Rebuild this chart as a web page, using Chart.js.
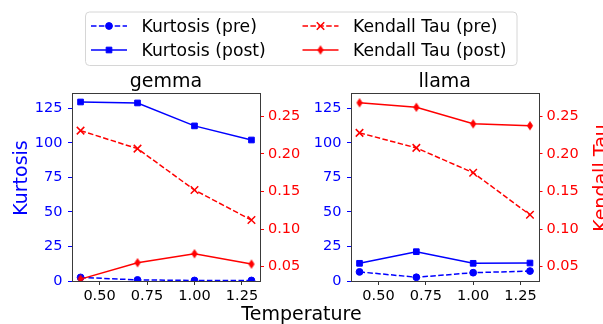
<!DOCTYPE html>
<html><head><meta charset="utf-8">
<script src="https://cdn.jsdelivr.net/npm/chart.js@4/dist/chart.umd.min.js"></script>
<style>
html,body{margin:0;padding:0;background:#fff;}
#wrap{position:relative;width:603px;height:324px;overflow:hidden;}
canvas{position:absolute;left:0;top:0;}
</style></head><body>
<div id="wrap"><canvas id="c1" width="603" height="324"></canvas><canvas id="c2" width="603" height="324"></canvas></div>
<script>
// ---- data ----
const temperatures = [0.4, 0.7, 1.0, 1.3];
const gemmaKurtosisPre  = [2.6, 0.8, 0.4, 0.4];
const gemmaKurtosisPost = [129.5, 128.8, 112.2, 102.0];
const gemmaTauPre  = [0.231, 0.207, 0.152, 0.112];
const gemmaTauPost = [0.0335, 0.0553, 0.0673, 0.0535];
const llamaKurtosisPre  = [6.6, 2.7, 6.0, 7.2];
const llamaKurtosisPost = [12.8, 21.2, 12.8, 13.0];
const llamaTauPre  = [0.228, 0.208, 0.175, 0.119];
const llamaTauPost = [0.268, 0.262, 0.240, 0.2375];
const xTicks = [0.5, 0.75, 1.0, 1.25];
const kurtosisTicks = [0, 25, 50, 75, 100, 125];
const tauTicks = [0.05, 0.10, 0.15, 0.20, 0.25];
const seriesLabels = ['Kurtosis (pre)', 'Kurtosis (post)', 'Kendall Tau (pre)', 'Kendall Tau (post)'];
const panelTitles = ['gemma', 'llama'];

// ---- styles ----
const BLUE = '#0000ff', RED = '#ff0000';
const FONT = '"DejaVu Sans", sans-serif';
const DASH = [5.5, 2.4];
const TICK_FONT = {size: 14.5, family: FONT};

function makeThinDiamond(color){
  const c = document.createElement('canvas');
  c.width = 8; c.height = 11;
  const g = c.getContext('2d');
  g.beginPath();
  g.moveTo(4, 1.5); g.lineTo(6.6, 5.5); g.lineTo(4, 9.5); g.lineTo(1.4, 5.5); g.closePath();
  g.fillStyle = color; g.strokeStyle = color; g.lineWidth = 1;
  g.fill(); g.stroke();
  return c;
}
const thinDiamond = makeThinDiamond(RED);

const styleSpec = [
  {color: BLUE, dash: DASH, pointStyle: 'circle', radius: 3.4, pbw: 1},
  {color: BLUE, dash: [], pointStyle: 'rect', radius: 4, pbw: 1},
  {color: RED, dash: DASH, pointStyle: 'crossRot', radius: 5.3, pbw: 1.5},
  {color: RED, dash: [], pointStyle: thinDiamond, radius: 4.5, pbw: 1},
];

function pts(vals){ return temperatures.map((t,i)=>({x:t, y:vals[i]})); }

function ds(idx, vals, axis){
  const s = styleSpec[idx];
  return {
    label: seriesLabels[idx], data: pts(vals), yAxisID: axis,
    borderColor: s.color, backgroundColor: s.color, borderWidth: 1.5, borderDash: s.dash,
    pointStyle: s.pointStyle, pointRadius: s.radius, pointBorderWidth: s.pbw,
    pointBackgroundColor: s.color, pointBorderColor: s.color,
    tension: 0, fill: false, clip: {left:0, top:0, right:0, bottom:0}
  };
}

function drawMarker(ctx, idx, x, y){
  const s = styleSpec[idx];
  ctx.save();
  ctx.fillStyle = s.color; ctx.strokeStyle = s.color; ctx.lineWidth = s.pbw; ctx.setLineDash([]);
  const st = s.pointStyle, r = s.radius;
  ctx.beginPath();
  if (st === 'circle') { ctx.arc(x, y, r, 0, Math.PI*2); ctx.fill(); ctx.stroke(); }
  else if (st === 'rect') { const h = r*Math.SQRT1_2; ctx.rect(x-h, y-h, 2*h, 2*h); ctx.fill(); ctx.stroke(); }
  else if (st === 'crossRot') { const h = r*Math.SQRT1_2; ctx.moveTo(x-h,y-h); ctx.lineTo(x+h,y+h); ctx.moveTo(x+h,y-h); ctx.lineTo(x-h,y+h); ctx.stroke(); }
  else { ctx.drawImage(st, x - st.width/2, y - st.height/2); }
  ctx.restore();
}

function drawLegend(ctx){
  ctx.save();
  const bx = 85.5, by = 12, bw = 431.5, bh = 53.5, rr = 4;
  ctx.beginPath();
  ctx.moveTo(bx+rr, by); ctx.lineTo(bx+bw-rr, by); ctx.quadraticCurveTo(bx+bw, by, bx+bw, by+rr);
  ctx.lineTo(bx+bw, by+bh-rr); ctx.quadraticCurveTo(bx+bw, by+bh, bx+bw-rr, by+bh);
  ctx.lineTo(bx+rr, by+bh); ctx.quadraticCurveTo(bx, by+bh, bx, by+bh-rr);
  ctx.lineTo(bx, by+rr); ctx.quadraticCurveTo(bx, by, bx+rr, by); ctx.closePath();
  ctx.fillStyle = 'rgba(255,255,255,0.8)'; ctx.fill();
  ctx.strokeStyle = '#d6d6d6'; ctx.lineWidth = 1; ctx.stroke();
  const cols = [{x0: 91, x1: 127, mx: 109, tx: 141.5}, {x0: 302.5, x1: 338.5, mx: 320.5, tx: 353}];
  const rows = [26, 50];
  ctx.font = '17.2px ' + FONT; ctx.textAlign = 'left'; ctx.textBaseline = 'alphabetic';
  for (let i = 0; i < 4; i++){
    const c = cols[Math.floor(i/2)], y = rows[i%2], s = styleSpec[i];
    ctx.strokeStyle = s.color; ctx.lineWidth = 1.5; ctx.setLineDash(s.dash);
    ctx.beginPath(); ctx.moveTo(c.x0, y); ctx.lineTo(c.x1, y); ctx.stroke();
    ctx.setLineDash([]);
    drawMarker(ctx, i, c.mx, y);
    ctx.fillStyle = '#000';
    ctx.fillText(seriesLabels[i], c.tx, y + 6.4);
  }
  ctx.restore();
}

const decor = {
  id: 'decor',
  afterDraw(chart, args, opts){
    const ctx = chart.ctx, a = chart.chartArea;
    ctx.save();
    ctx.strokeStyle = '#3a3a3a'; ctx.lineWidth = 1;
    ctx.strokeRect(Math.round(a.left)+0.5, Math.round(a.top)+0.5, Math.round(a.right)-Math.round(a.left), Math.round(a.bottom)-Math.round(a.top));
    ctx.fillStyle = '#000'; ctx.font = '19px ' + FONT; ctx.textAlign = 'center'; ctx.textBaseline = 'alphabetic';
    ctx.fillText(opts.title, (a.left + a.right)/2, 87);
    if (opts.extra) opts.extra(ctx);
    ctx.restore();
  }
};

function makeChart(id, title, kPre, kPost, tPre, tPost, left, right, extra){
  const W = 603, H = 324, top = 93, bottom = 281;
  const yW = 60, y1W = 60, xH = 30;
  return new Chart(document.getElementById(id), {
    type: 'line',
    data: { datasets: [ ds(3, tPost, 'y1'), ds(2, tPre, 'y1'), ds(1, kPost, 'y'), ds(0, kPre, 'y') ] },
    plugins: [decor],
    options: {
      responsive: false, animation: false, devicePixelRatio: 1, events: [],
      layout: { autoPadding: false, padding: { left: left - yW, right: W - right - y1W, top: top, bottom: H - bottom - xH } },
      plugins: { legend: {display: false}, tooltip: {enabled: false}, decor: { title: title, extra: extra } },
      scales: {
        x: {
          type: 'linear', min: 0.355, max: 1.345,
          afterBuildTicks: s => { s.ticks = xTicks.map(v => ({value: v})); },
          afterFit: s => { s.height = xH; },
          ticks: { callback: v => Number(v).toFixed(2), font: TICK_FONT, color: '#000', padding: 2.5, maxRotation: 0, autoSkip: false },
          grid: { drawOnChartArea: false, drawTicks: true, tickLength: 4, tickColor: '#333', tickWidth: 1 },
          border: { display: false }
        },
        y: {
          type: 'linear', position: 'left', min: 0, max: 136,
          afterBuildTicks: s => { s.ticks = kurtosisTicks.map(v => ({value: v})); },
          afterFit: s => { s.width = yW; },
          ticks: { callback: v => String(v), font: TICK_FONT, color: BLUE, padding: 5.5 },
          grid: { drawOnChartArea: false, drawTicks: true, tickLength: 4, tickColor: BLUE, tickWidth: 1 },
          border: { display: false }
        },
        y1: {
          type: 'linear', position: 'right', min: 0.031, max: 0.281,
          afterBuildTicks: s => { s.ticks = tauTicks.map(v => ({value: v})); },
          afterFit: s => { s.width = y1W; },
          ticks: { callback: v => Number(v).toFixed(2), font: TICK_FONT, color: RED, padding: 4 },
          grid: { drawOnChartArea: false, drawTicks: true, tickLength: 4, tickColor: RED, tickWidth: 1 },
          border: { display: false }
        }
      }
    }
  });
}

function leftExtras(ctx){
  drawLegend(ctx);
  ctx.save();
  ctx.font = '19px ' + FONT; ctx.textAlign = 'center'; ctx.textBaseline = 'alphabetic';
  ctx.fillStyle = BLUE;
  ctx.translate(26.7, 178); ctx.rotate(-Math.PI/2); ctx.fillText('Kurtosis', 0, 0);
  ctx.restore();
  ctx.save();
  ctx.font = '19px ' + FONT; ctx.textAlign = 'center'; ctx.textBaseline = 'alphabetic';
  ctx.fillStyle = '#000';
  ctx.fillText('Temperature', 301.5, 320);
  ctx.restore();
}
function rightExtras(ctx){
  ctx.save();
  ctx.font = '19px ' + FONT; ctx.textAlign = 'center'; ctx.textBaseline = 'alphabetic';
  ctx.fillStyle = RED;
  ctx.translate(607.2, 178); ctx.rotate(-Math.PI/2); ctx.fillText('Kendall Tau', 0, 0);
  ctx.restore();
}

makeChart('c1', panelTitles[0], gemmaKurtosisPre, gemmaKurtosisPost, gemmaTauPre, gemmaTauPost, 72, 260, leftExtras);
makeChart('c2', panelTitles[1], llamaKurtosisPre, llamaKurtosisPost, llamaTauPre, llamaTauPost, 351, 538.5, rightExtras);
</script>
</body></html>
